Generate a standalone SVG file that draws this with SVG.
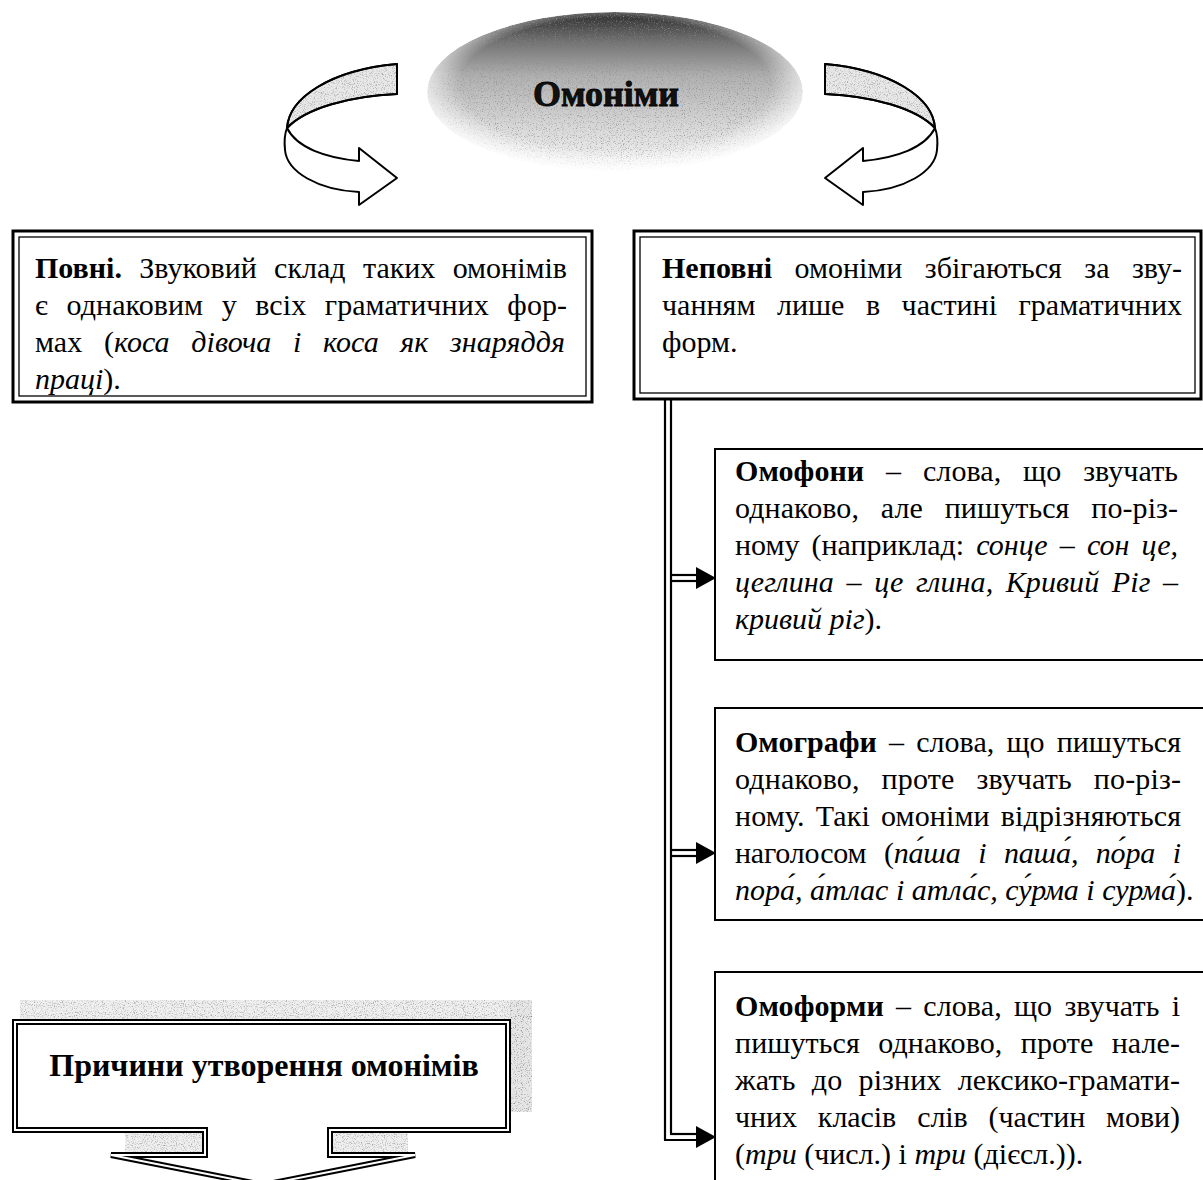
<svg xmlns="http://www.w3.org/2000/svg" width="1203" height="1180" viewBox="0 0 1203 1180">
<style>
  .t { font-family: "Liberation Serif", "Times New Roman", serif; font-size: 30px; fill: #000; }
  .b { font-weight: bold; }
  .i { font-style: italic; }
  .box { fill: #fff; stroke: #000; stroke-width: 2; }
  .outer { fill: #fff; stroke: #000; stroke-width: 3; }
  .inner { fill: none; stroke: #000; stroke-width: 1.3; }
  .band { stroke: #000; stroke-width: 2; stroke-linejoin: round; }
  .conn { stroke: #000; stroke-width: 2.2; fill: none; }
</style>
<defs>
  <linearGradient id="ellG" x1="0" y1="0" x2="0" y2="1">
    <stop offset="0" stop-color="#2a2a2a"/>
    <stop offset="0.18" stop-color="#707070"/>
    <stop offset="0.4" stop-color="#b0b0b0"/>
    <stop offset="0.7" stop-color="#d6d6d6"/>
    <stop offset="1" stop-color="#f6f6f6"/>
  </linearGradient>
  <radialGradient id="ellFade" cx="0.5" cy="0.45" r="0.55">
    <stop offset="0.75" stop-color="#fff" stop-opacity="1"/>
    <stop offset="1" stop-color="#fff" stop-opacity="0"/>
  </radialGradient>
  <mask id="ellMask">
    <ellipse cx="615" cy="92" rx="188" ry="80" fill="url(#ellFade)"/>
  </mask>
  <filter id="speck" x="0" y="0" width="100%" height="100%">
    <feTurbulence type="fractalNoise" baseFrequency="0.85" numOctaves="2" seed="7"/>
    <feColorMatrix type="matrix" values="0 0 0 0 0.25  0 0 0 0 0.25  0 0 0 0 0.25  0 0 0 3.2 -1.75"/>
    <feComposite in2="SourceGraphic" operator="in"/>
  </filter>
  <filter id="speckLight" x="0" y="0" width="100%" height="100%">
    <feTurbulence type="fractalNoise" baseFrequency="0.9" numOctaves="2" seed="3"/>
    <feColorMatrix type="matrix" values="0 0 0 0 0.35  0 0 0 0 0.35  0 0 0 0 0.35  0 0 0 3 -1.55"/>
    <feComposite in2="SourceGraphic" operator="in"/>
  </filter>
  <g id="curl">
    <path class="band" fill="#e8e8e8" d="M397,64 L397,94 C350,96 306,108 287,128 C289,98 330,70 397,64 Z"/>
    <path fill="#000" filter="url(#speckLight)" d="M397,64 L397,94 C350,96 306,108 287,128 C289,98 330,70 397,64 Z"/>
    <path class="band" fill="none" d="M397,64 L397,94 C350,96 306,108 287,128 C289,98 330,70 397,64 Z"/>
    <path class="band" fill="#fff" d="M287,128 C297,148 326,158 359,161 L359,148 L397,178 L359,205 L359,192 C318,190 287,172 285,150 C284,140 285,133 287,128 Z"/>
  </g>
</defs>

<!-- Title ellipse -->
<g id="node-title">
  <g mask="url(#ellMask)">
    <ellipse cx="615" cy="92" rx="188" ry="80" fill="url(#ellG)"/>
    <ellipse cx="615" cy="92" rx="188" ry="80" fill="#000" filter="url(#speck)" opacity="0.8"/>
  </g>
  <text x="606" y="106" text-anchor="middle" font-family="'Liberation Serif', serif" font-size="36" font-weight="bold" fill="#111" stroke="#000" stroke-width="0.8">Омоніми</text>
</g>

<!-- Curved arrows -->
<g id="curl-left"><use href="#curl"/></g>
<g id="curl-right"><use href="#curl" transform="translate(1222,0) scale(-1,1)"/></g>

<!-- Left box -->
<g id="node-full">
  <rect class="outer" x="13" y="231" width="579" height="171"/>
  <rect class="inner" x="19" y="237" width="567" height="159"/>
  <text class="t" x="35" y="278" word-spacing="9.8" textLength="532" lengthAdjust="spacing"><tspan class="b">Повні.</tspan> Звуковий склад таких омонімів</text>
  <text class="t" x="35" y="315" word-spacing="11" textLength="532" lengthAdjust="spacing">є однаковим у всіх граматичних фор-</text>
  <text class="t" x="35" y="352" word-spacing="14" textLength="530" lengthAdjust="spacing">мах (<tspan class="i">коса дівоча і коса як знаряддя</tspan></text>
  <text class="t" x="35" y="389"><tspan class="i">праці</tspan>).</text>
</g>

<!-- Right box -->
<g id="node-partial">
  <rect class="outer" x="634" y="231" width="567" height="168"/>
  <rect class="inner" x="640" y="237" width="555" height="156"/>
  <text class="t" x="662" y="278" word-spacing="15" textLength="520" lengthAdjust="spacing"><tspan class="b">Неповні</tspan> омоніми збігаються за зву-</text>
  <text class="t" x="662" y="315" word-spacing="14" textLength="520" lengthAdjust="spacing">чанням лише в частині граматичних</text>
  <text class="t" x="662" y="352">форм.</text>
</g>

<!-- Омофони -->
<g id="node-homophones">
  <rect class="box" x="715" y="449" width="500" height="211"/>
  <text class="t" x="735" y="481" word-spacing="14.3" textLength="443" lengthAdjust="spacing"><tspan class="b">Омофони</tspan> – слова, що звучать</text>
  <text class="t" x="735" y="518" word-spacing="14.2" textLength="443" lengthAdjust="spacing">однаково, але пишуться по-різ-</text>
  <text class="t" x="735" y="555" word-spacing="4.6" textLength="443" lengthAdjust="spacing">ному (наприклад: <tspan class="i">сонце – сон це,</tspan></text>
  <text class="t i" x="735" y="592" word-spacing="5" textLength="443" lengthAdjust="spacing">цеглина – це глина, Кривий Ріг –</text>
  <text class="t" x="735" y="629"><tspan class="i">кривий ріг</tspan>).</text>
</g>

<!-- Омографи -->
<g id="node-homographs">
  <rect class="box" x="715" y="708" width="500" height="212"/>
  <text class="t" x="735" y="752" word-spacing="4.6" textLength="446" lengthAdjust="spacing"><tspan class="b">Омографи</tspan> – слова, що пишуться</text>
  <text class="t" x="735" y="789" word-spacing="14.3" textLength="446" lengthAdjust="spacing">однаково, проте звучать по-різ-</text>
  <text class="t" x="735" y="826" word-spacing="3.5" textLength="446" lengthAdjust="spacing">ному. Такі омоніми відрізняються</text>
  <text class="t" x="735" y="863" word-spacing="10.3" textLength="446" lengthAdjust="spacing">наголосом (<tspan class="i">па́ша і паша́, по́ра і</tspan></text>
  <text class="t" x="735" y="900"><tspan class="i">пора́, а́тлас і атла́с, су́рма і сурма́</tspan>).</text>
</g>

<!-- Омоформи -->
<g id="node-homoforms">
  <rect class="box" x="715" y="972" width="500" height="230"/>
  <text class="t" x="735" y="1016" word-spacing="4.6" textLength="445" lengthAdjust="spacing"><tspan class="b">Омоформи</tspan> – слова, що звучать і</text>
  <text class="t" x="735" y="1053" word-spacing="10.8" textLength="445" lengthAdjust="spacing">пишуться однаково, проте нале-</text>
  <text class="t" x="735" y="1090" word-spacing="8.7" textLength="445" lengthAdjust="spacing">жать до різних лексико-грамати-</text>
  <text class="t" x="735" y="1127" word-spacing="13.5" textLength="445" lengthAdjust="spacing">чних класів слів (частин мови)</text>
  <text class="t" x="735" y="1164">(<tspan class="i">три</tspan> (числ.) і <tspan class="i">три</tspan> (дієсл.)).</text>
</g>

<!-- Причини -->
<g id="node-causes">
  <rect x="20" y="1000" width="512" height="22" fill="#efefef"/>
  <rect x="20" y="1000" width="512" height="22" fill="#000" filter="url(#speckLight)"/>
  <rect x="510" y="1000" width="22" height="112" fill="#e6e6e6"/>
  <rect x="510" y="1000" width="22" height="112" fill="#000" filter="url(#speck)"/>
  <rect x="125" y="1131" width="80" height="22" fill="#eeeeee"/>
  <rect x="125" y="1131" width="80" height="22" fill="#000" filter="url(#speckLight)"/>
  <rect x="330" y="1131" width="78" height="22" fill="#eeeeee"/>
  <rect x="330" y="1131" width="78" height="22" fill="#000" filter="url(#speckLight)"/>
  <path d="M15,1022 H508 V1130 H330 V1155 H415 L263,1185 L111,1155 H205 V1130 H15 Z" fill="#fff" stroke="#000" stroke-width="6" stroke-linejoin="miter"/>
  <path d="M15,1022 H508 V1130 H330 V1155 H415 L263,1185 L111,1155 H205 V1130 H15 Z" fill="none" stroke="#fff" stroke-width="2" stroke-linejoin="miter"/>
  <text class="t b" x="264" y="1076" text-anchor="middle" style="font-size:32px">Причини утворення омонімів</text>
</g>

<!-- Connectors -->
<g id="connectors">
  <line class="conn" x1="665" y1="400" x2="665" y2="1140"/>
  <line class="conn" x1="671" y1="400" x2="671" y2="1134"/>
  <line class="conn" x1="671" y1="575" x2="698" y2="575"/>
  <line class="conn" x1="671" y1="581" x2="698" y2="581"/>
  <polygon points="696,567 716,578 696,589" fill="#000"/>
  <line class="conn" x1="671" y1="850" x2="698" y2="850"/>
  <line class="conn" x1="671" y1="856" x2="698" y2="856"/>
  <polygon points="696,842 716,853 696,864" fill="#000"/>
  <line class="conn" x1="664" y1="1140" x2="698" y2="1140"/>
  <line class="conn" x1="670" y1="1134" x2="698" y2="1134"/>
  <polygon points="696,1126 716,1137 696,1148" fill="#000"/>
</g>
</svg>
